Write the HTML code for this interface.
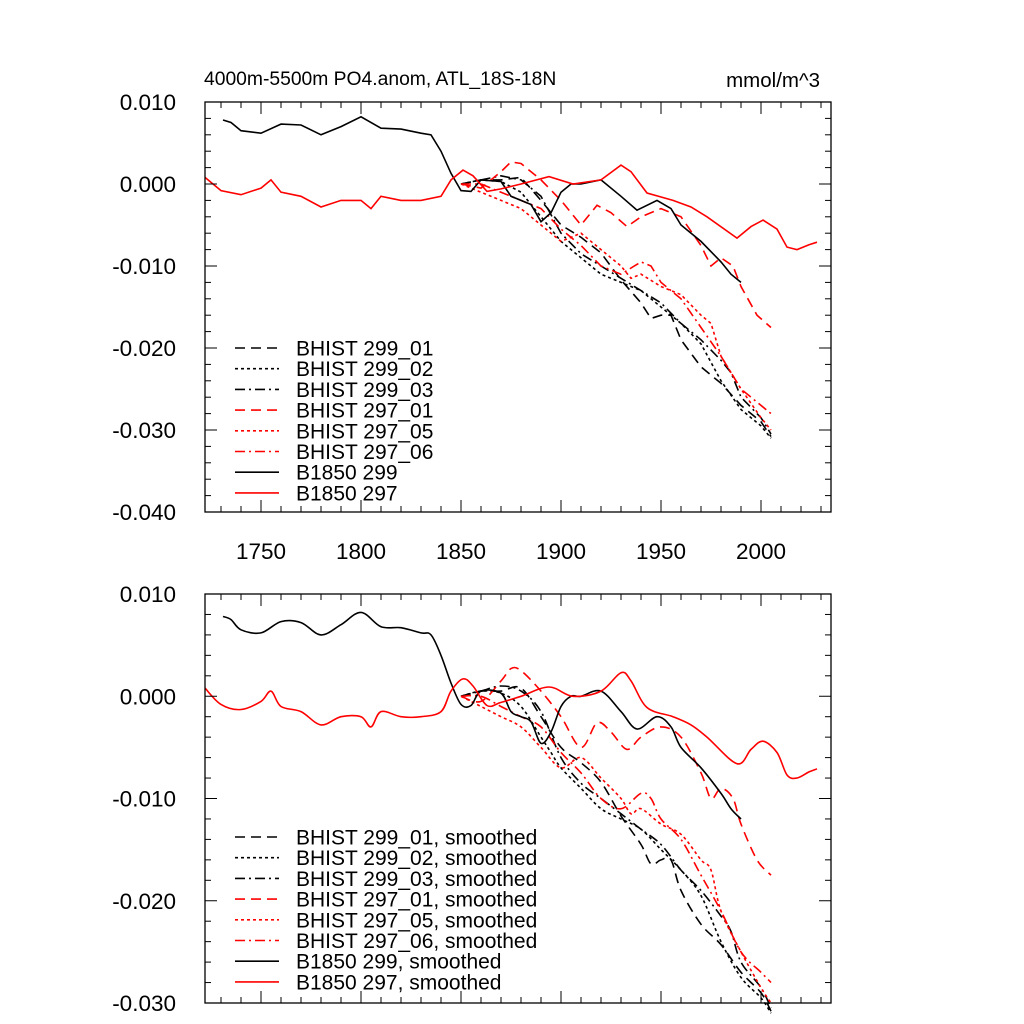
<!DOCTYPE html>
<html><head><meta charset="utf-8">
<style>
html,body{margin:0;padding:0;background:#fff;}
svg{display:block;font-family:"Liberation Sans",sans-serif;}
</style></head>
<body>
<svg id="chart" width="1024" height="1024" viewBox="0 0 1024 1024">
  <text x="204" y="85" font-size="19.3">4000m-5500m PO4.anom, ATL_18S-18N</text>
  <text x="820" y="87" font-size="20.5" text-anchor="end">mmol/m^3</text>
</svg>
<script>
// ---- data (values in 1e-3 mmol/m^3) ----
const b299Years = [1731,1735,1740,1750,1760,1770,1780,1790,1800,1810,1820,1830,1835,1840,1845,1850,1855,1860,1870,1875,1880,1885,1890,1895,1900,1905,1910,1920,1930,1938,1948,1955,1960,1970,1980,1985,1990];
const b299Vals  = [7.8,7.5,6.5,6.2,7.3,7.2,6.0,7.0,8.2,6.8,6.7,6.2,6.0,4.0,1.3,-0.8,-0.9,0.5,0.3,-1.5,-2,-2.5,-4.6,-3.5,-1,0,0,0.5,-1.5,-3.2,-2,-3,-5,-7,-9.5,-11,-12];
const b297Years = [1722,1730,1740,1750,1755,1760,1770,1780,1790,1800,1805,1810,1820,1830,1840,1845,1851,1856,1863,1870,1880,1894,1906,1920,1930,1935,1943,1956,1965,1973,1988,1995,2001,2008,2013,2018,2024,2028];
const b297Vals  = [0.8,-0.8,-1.3,-0.5,0.5,-1,-1.5,-2.8,-2,-2,-3,-1.5,-2,-2,-1.5,0.5,1.7,1,-0.9,-0.6,0,0.9,0,0.5,2.3,1.5,-1.1,-2,-2.8,-4,-6.6,-5.2,-4.4,-5.5,-7.7,-8,-7.4,-7.1];
const h29901Years = [1850,1860,1870,1880,1890,1900,1910,1920,1930,1940,1945,1950,1955,1960,1970,1980,1990,2000,2005];
const h29901Vals  = [0,0.5,0.5,0.8,-2,-5,-6.5,-8.4,-11.7,-14.5,-16.4,-16,-16,-19,-22.3,-24.3,-27,-29,-30.8];
const h29902Years = [1850,1860,1870,1880,1890,1895,1900,1910,1920,1930,1940,1950,1960,1970,1980,1990,2000,2005];
const h29902Vals  = [0,0.5,0.3,-1,-4,-5.5,-7,-9,-11,-12,-13,-15,-17,-19.5,-24,-27.5,-29.5,-31];
const h29903Years = [1850,1860,1870,1880,1890,1900,1910,1920,1930,1940,1950,1960,1970,1980,1985,1990,2000,2005];
const h29903Vals  = [0,0.5,1,0.5,-1.5,-6,-8.5,-10,-11.5,-13,-14.5,-17,-19,-21.5,-23,-26,-28.5,-30.5];
const h29701Years = [1850,1860,1870,1875,1880,1890,1900,1910,1918,1925,1933,1940,1950,1960,1970,1975,1980,1986,1990,1998,2005];
const h29701Vals  = [0,-0.5,1.5,2.7,2.5,0.5,-2,-5,-2.6,-3.5,-5.2,-4,-3,-4,-7.5,-10,-9,-10,-12.5,-16,-17.5];
const h29705Years = [1850,1860,1870,1880,1890,1900,1910,1920,1930,1935,1940,1950,1960,1970,1975,1980,1990,2000,2005];
const h29705Vals  = [0,-1,-2,-3,-5,-7,-6,-8,-10,-11.5,-11,-12.5,-13.5,-16,-17,-21,-25,-28.5,-30];
const h29706Years = [1850,1860,1870,1880,1890,1900,1910,1920,1930,1940,1945,1950,1960,1970,1980,1990,2000,2005];
const h29706Vals  = [0,0,-1,-2,-3,-5.5,-7.5,-10,-11,-9.5,-10,-12,-14,-17.5,-21,-25,-27,-28];
const topYTicks = ["0.010","0.000","-0.010","-0.020","-0.030","-0.040"];
const topYVals  = [10,0,-10,-20,-30,-40];
const botYTicks = ["0.010","0.000","-0.010","-0.020","-0.030"];
const botYVals  = [10,0,-10,-20,-30];
const xTickYears = [1750,1800,1850,1900,1950,2000];
const seriesNames = ["BHIST 299_01","BHIST 299_02","BHIST 299_03","BHIST 297_01","BHIST 297_05","BHIST 297_06","B1850 299","B1850 297"];

const NS="http://www.w3.org/2000/svg";
const svg=document.getElementById('chart');
function mk(tag,attrs,parent){const e=document.createElementNS(NS,tag);for(const k in attrs)e.setAttribute(k,attrs[k]);(parent||svg).appendChild(e);return e;}

const X0=205,X1=831,yr0=1722,yr1=2035;
function xs(y){return X0+(y-yr0)*(X1-X0)/(yr1-yr0);}

const styles=[
 {c:"#000",d:"10,6"},{c:"#000",d:"3,3"},{c:"#000",d:"10,4,2,4"},
 {c:"#f00",d:"10,6"},{c:"#f00",d:"3,3"},{c:"#f00",d:"10,4,2,4"},
 {c:"#000",d:""},{c:"#f00",d:""}];
const data=[[h29901Years,h29901Vals],[h29902Years,h29902Vals],[h29903Years,h29903Vals],
 [h29701Years,h29701Vals],[h29705Years,h29705Vals],[h29706Years,h29706Vals],
 [b299Years,b299Vals],[b297Years,b297Vals]];

function panel(name,top,bot,vmax,vmin,tickLabels,tickVals,showX,smooth,legY,suffix){
  const ys=v=>top+(vmax-v)*(bot-top)/(vmax-vmin);
  const g=mk('g',{});
  
  
  data.forEach((s,i)=>{
    const pts=s[0].map((yr,j)=>[xs(yr),ys(s[1][j])]);
    let d;
    if(smooth){
      d="M"+pts[0][0].toFixed(1)+","+pts[0][1].toFixed(1);
      for(let j=0;j<pts.length-1;j++){
        const p0=pts[j-1]||pts[j],p1=pts[j],p2=pts[j+1],p3=pts[j+2]||p2;
        const c1=[p1[0]+(p2[0]-p0[0])/6,p1[1]+(p2[1]-p0[1])/6];
        const c2=[p2[0]-(p3[0]-p1[0])/6,p2[1]-(p3[1]-p1[1])/6];
        d+=" C"+c1.map(v=>v.toFixed(1))+" "+c2.map(v=>v.toFixed(1))+" "+p2.map(v=>v.toFixed(1));
      }
    } else d="M"+pts.map(p=>p[0].toFixed(1)+","+p[1].toFixed(1)).join(" L");
    const p=mk('path',{d:d,fill:"none",stroke:styles[i].c,"stroke-width":1.6,"stroke-dasharray":styles[i].d},g);
    
    
  });
  const r=mk('rect',{x:X0,y:top,width:X1-X0,height:bot-top,fill:"none",stroke:"#000","stroke-width":1.3},g);
  
  
  for(let v=vmax;v>=vmin-0.001;v-=2){
    const major=Math.abs(v%10)<0.01;const L=major?12:6;const y=ys(v);
    mk('line',{x1:X0,x2:X0+L,y1:y,y2:y,stroke:"#000","stroke-width":1},g);
    mk('line',{x1:X1,x2:X1-L,y1:y,y2:y,stroke:"#000","stroke-width":1},g);
  }
  tickVals.forEach((v,i)=>{
    const t=mk('text',{x:X0-29,y:ys(v)+8,"text-anchor":"end","font-size":22.5},g);
    t.textContent=tickLabels[i];
    
    
  });
  for(let yr=1730;yr<=2030;yr+=10){
    const major=yr%50===0;const L=major?12:6;const x=xs(yr);
    mk('line',{x1:x,x2:x,y1:bot,y2:bot-L,stroke:"#000","stroke-width":1},g);
    mk('line',{x1:x,x2:x,y1:top,y2:top+L,stroke:"#000","stroke-width":1},g);
  }
  if(showX){
    xTickYears.forEach(yr=>{
      const t=mk('text',{x:xs(yr),y:bot+47,"text-anchor":"middle","font-size":22.5},g);
      t.textContent=String(yr);
      
      
    });
  }
  const lg=mk('g',{},g);
  
  
  seriesNames.forEach((n,i)=>{
    const y=legY+i*20.7;
    mk('line',{x1:235,x2:279,y1:y,y2:y,stroke:styles[i].c,"stroke-width":1.6,"stroke-dasharray":styles[i].d},lg);
    const t=mk('text',{x:296,y:y+7.5,"font-size":21},lg);
    t.textContent=n+suffix;
    
    
  });
}
panel('top-panel',102,512,10,-40,topYTicks,topYVals,true,false,348,"");
panel('bottom-panel',594,1003,10,-30,botYTicks,botYVals,false,true,837,", smoothed");
</script>
</body></html>
